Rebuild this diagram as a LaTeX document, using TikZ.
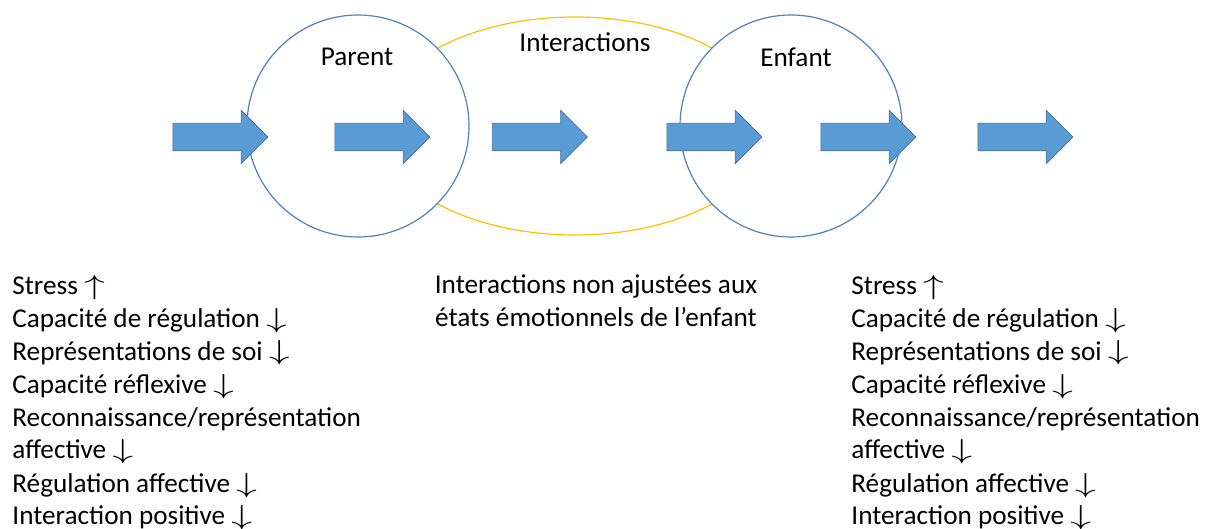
\documentclass[tikz,border=0pt]{standalone}
\usepackage{fontspec}
\usepackage{graphicx}
\setmainfont{Carlito}
\usetikzlibrary{shapes.arrows, shapes.geometric, positioning}
\definecolor{flowblue}{RGB}{91, 155, 213}
\definecolor{flowedge}{RGB}{65, 113, 156}
\definecolor{ringblue}{RGB}{79, 129, 189}
\definecolor{linkgold}{RGB}{255, 192, 0}
\newcommand{\up}{\ \scalebox{1.45}[0.95]{$\uparrow$}}
\newcommand{\dn}{\ \scalebox{1.45}[0.95]{$\downarrow$}}
\tikzset{
  flow/.style={shape=single arrow, fill=flowblue, draw=flowedge, line width=0.3pt,
    single arrow head extend=6.5pt, single arrow head indent=0pt,
    minimum height=47.5pt, inner xsep=0pt, inner ysep=6.75pt},
  ring/.style={circle, draw=ringblue, fill=white, line width=0.6pt, minimum size=111pt, inner sep=0pt},
  tag/.style={font=\fontsize{13.6}{16}\selectfont},
  facts/.style={font=\fontsize{13.6}{16.5}\selectfont, align=left, anchor=base west, inner sep=0pt}
}

\begin{document}
\begin{tikzpicture}[x=0.5pt, y=-0.5pt]
  \useasboundingbox (0, 0) rectangle (1207, 529);

  % Interaction loop behind the two circles
  \node[ellipse, draw=linkgold, line width=0.6pt, minimum width=196pt, minimum height=109pt, inner sep=0pt] (loop) at (575, 126) {};
  \node[ring] (parent) at (358, 126) {};
  \node[ring] (enfant) at (791, 126) {};

  \node[tag] (parentlbl) at (357, 57) {Parent};
  \node[tag] (looplbl) at (585, 42) {Interactions};
  \node[tag] (enfantlbl) at (796, 57) {Enfant};

  % Block arrows
  \node[flow] (a1) at (213.5, 137) {};
  \node[flow] (a2) at (375.5, 137) {};
  \node[flow] (a3) at (533, 137) {};
  \node[flow] (a4) at (707.5, 137) {};
  \node[flow] (a5) at (861.5, 137) {};
  \node[flow] (a6) at (1018.5, 137) {};

  % Lists under the circles (base of the last line)
  \node[facts] (parentlist) at (12, 525) {Stress\up\\
    Capacité de régulation\dn\\
    Représentations de soi\dn\\
    Capacité réflexive\dn\\
    Reconnaissance/représentation\\
    affective\dn\\
    Régulation affective\dn\\
    Interaction positive\dn};
  \node[font=\fontsize{13.6}{16.5}\selectfont, align=center, anchor=base, inner sep=0pt] (looplist) at (596, 327)
    {Interactions non ajustées aux\\ états émotionnels de l’enfant};
  \node[facts] (enfantlist) at (851, 525) {Stress\up\\
    Capacité de régulation\dn\\
    Représentations de soi\dn\\
    Capacité réflexive\dn\\
    Reconnaissance/représentation\\
    affective\dn\\
    Régulation affective\dn\\
    Interaction positive\dn};
\end{tikzpicture}
\end{document}
